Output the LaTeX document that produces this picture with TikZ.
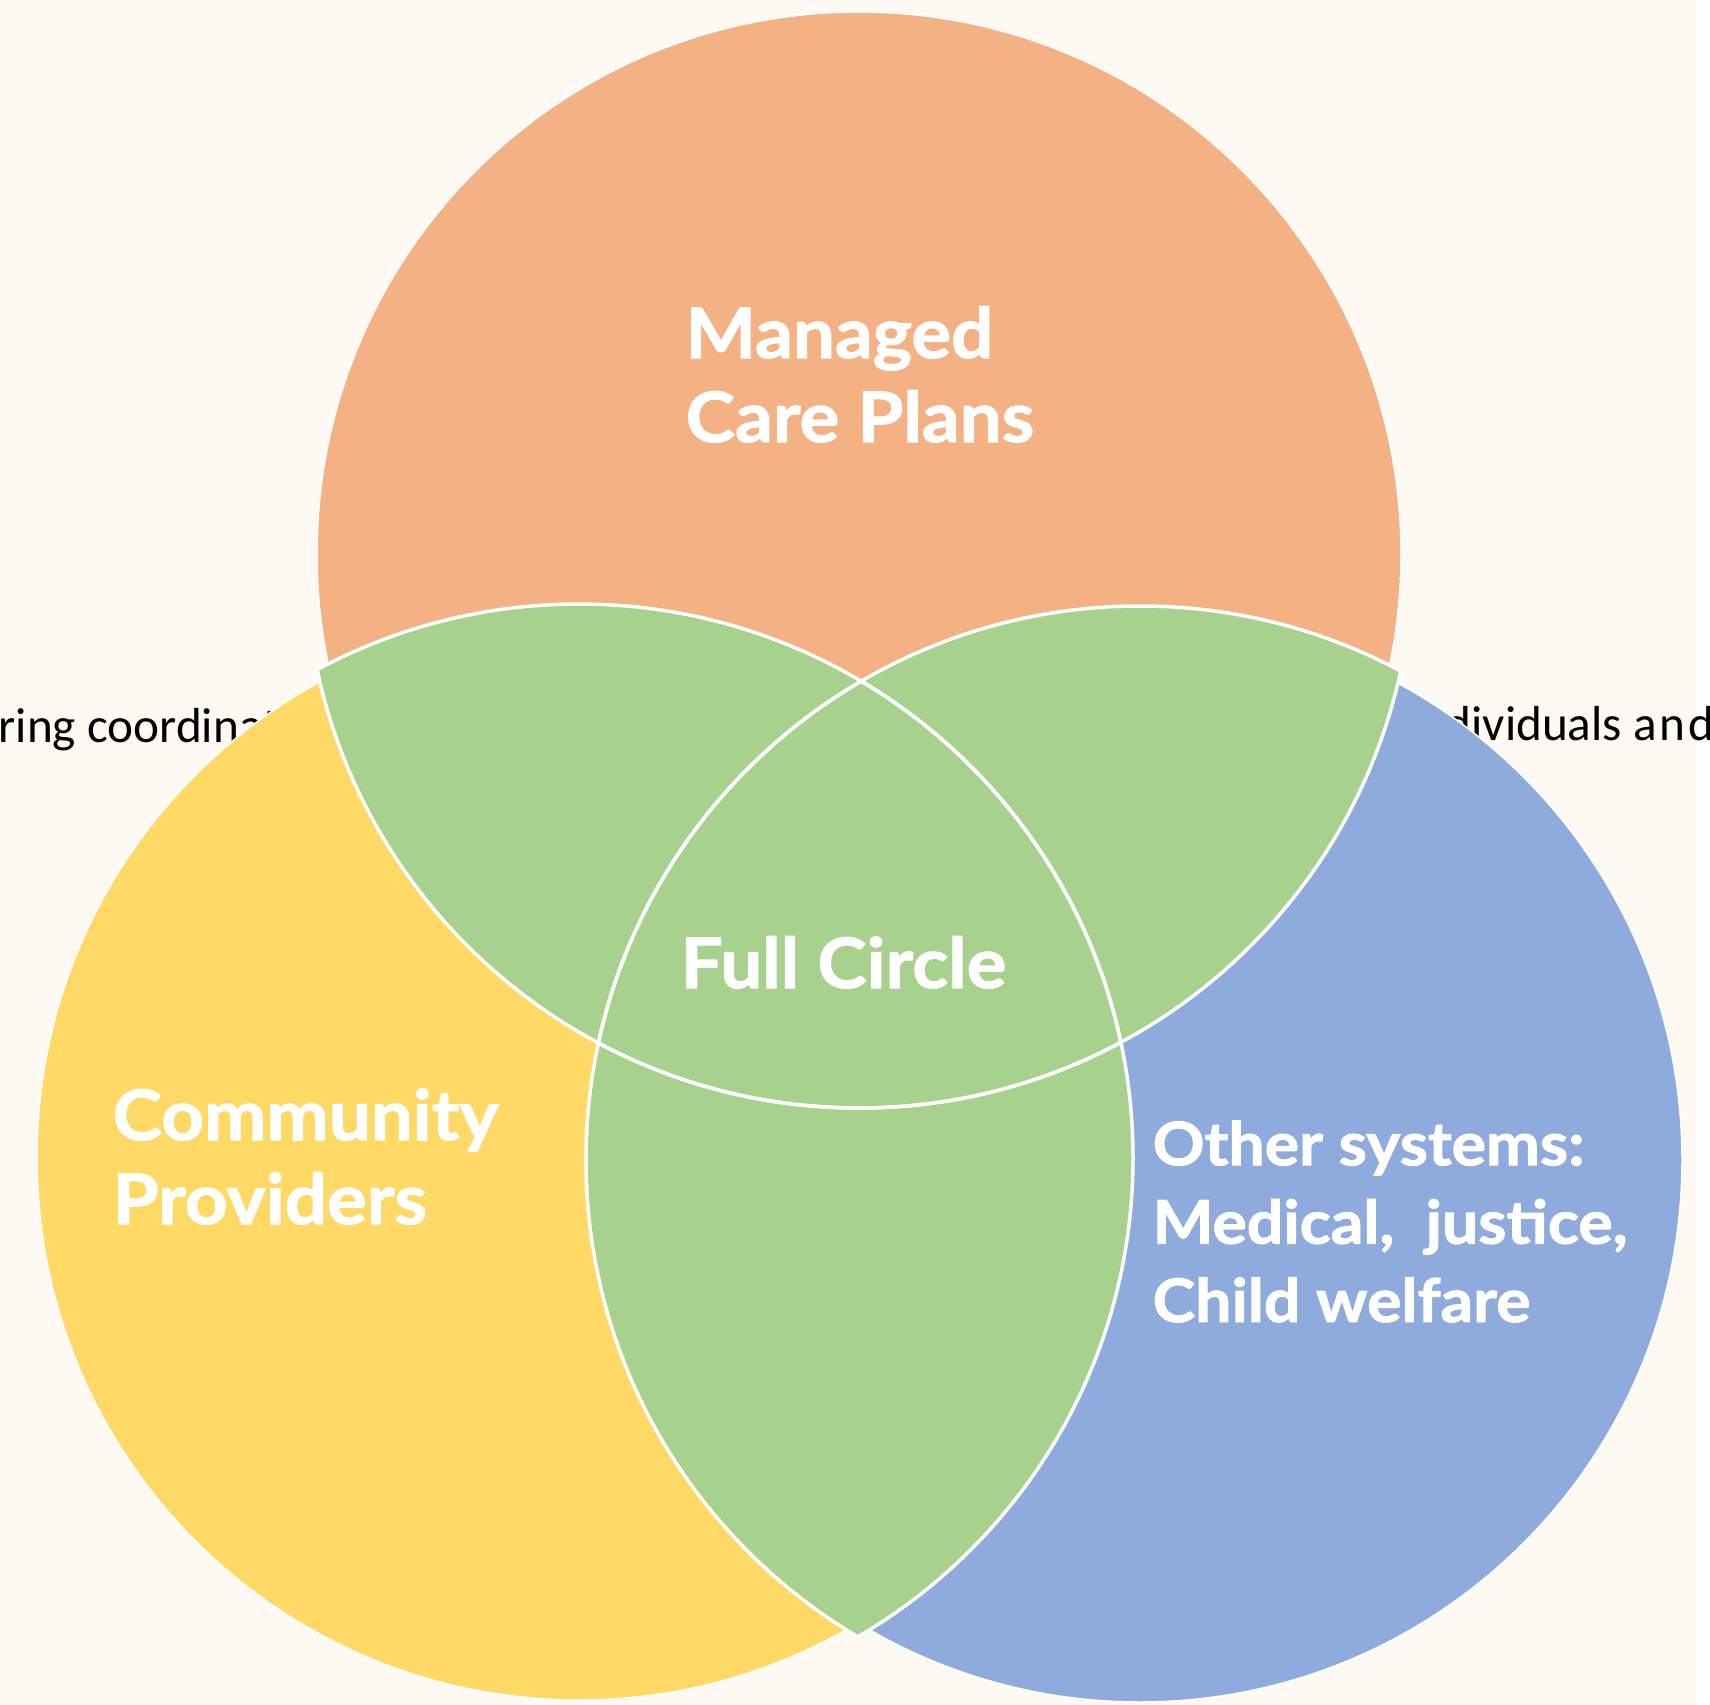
\documentclass[tikz,border=0pt]{standalone}
\usepackage{fontspec}
\setmainfont{Carlito}
\newfontfamily\gillfont{Lato}[FakeStretch=1.07, BoldFeatures={FakeBold=1.6}]

\definecolor{paper}{HTML}{FEF9F3}
\definecolor{plans}{HTML}{F4B183}
\definecolor{providers}{HTML}{FFD966}
\definecolor{systems}{HTML}{8FAADC}
\definecolor{overlap}{HTML}{A9D18E}

\begin{document}
\begin{tikzpicture}[x=0.1mm, y=-0.1mm]
    \fill[paper] (0,0) rectangle (1697,1705);
    \fill[white] (1697,0) rectangle (1710,1705);
    \useasboundingbox (0,0) rectangle (1710,1705);

    % slide text behind the diagram
    \begin{scope}[txt/.style={font=\fontsize{14}{17}\selectfont, anchor=base west, inner sep=0pt}]
        \node[txt] (t1) at (-2, 742) {ring coordinat};
        \node[txt] (t2) at (1445, 740) {dividuals {\addfontfeatures{LetterSpace=6}and}};
    \end{scope}

    \begin{scope}[all/.style={circle, draw=white, line width=0.15mm, minimum size=108.4mm, inner sep=0pt}]

        \node[all, fill=plans] (a0) at (859, 554) {};
        \node[all, fill=providers] (a1) at (579, 1158) {};
        \node[all, fill=systems] (a2) at (1140, 1160) {};

        \def\rl{55.4mm}
        \foreach \p/\q in {a0/a1, a0/a2, a1/a2} {
            \begin{scope}
                \clip (\p.center) circle (\rl);
                \fill[overlap] (\q.center) circle (\rl);
            \end{scope}
        }
        \foreach \p/\q in {a0/a1, a1/a0, a0/a2, a2/a0, a1/a2, a2/a1} {
            \begin{scope}
                \clip (\q.center) circle (\rl);
                \draw[white, line width=0.35mm] (\p.center) circle (\rl);
            \end{scope}
        }

        \begin{scope}[lbl/.style={text=white, align=left, anchor=base west, inner sep=0pt,
            font=\gillfont\bfseries\fontsize{19.8}{23.9}\selectfont}]
            \node[lbl] (b0) at (685, 442) {Managed\\Care Plans};
            \node[lbl] (b1) at (680, 988) {Full Circle};
            \node[lbl] (b2) at (112, 1224) {Community\\Providers};
            \node[lbl, font=\gillfont\bfseries\fontsize{17.1}{22.3}\selectfont] (b3) at (1152, 1322)
                {Other systems:\\Medical,~ justice,\\Child welfare};
        \end{scope}
    \end{scope}
\end{tikzpicture}
\end{document}
